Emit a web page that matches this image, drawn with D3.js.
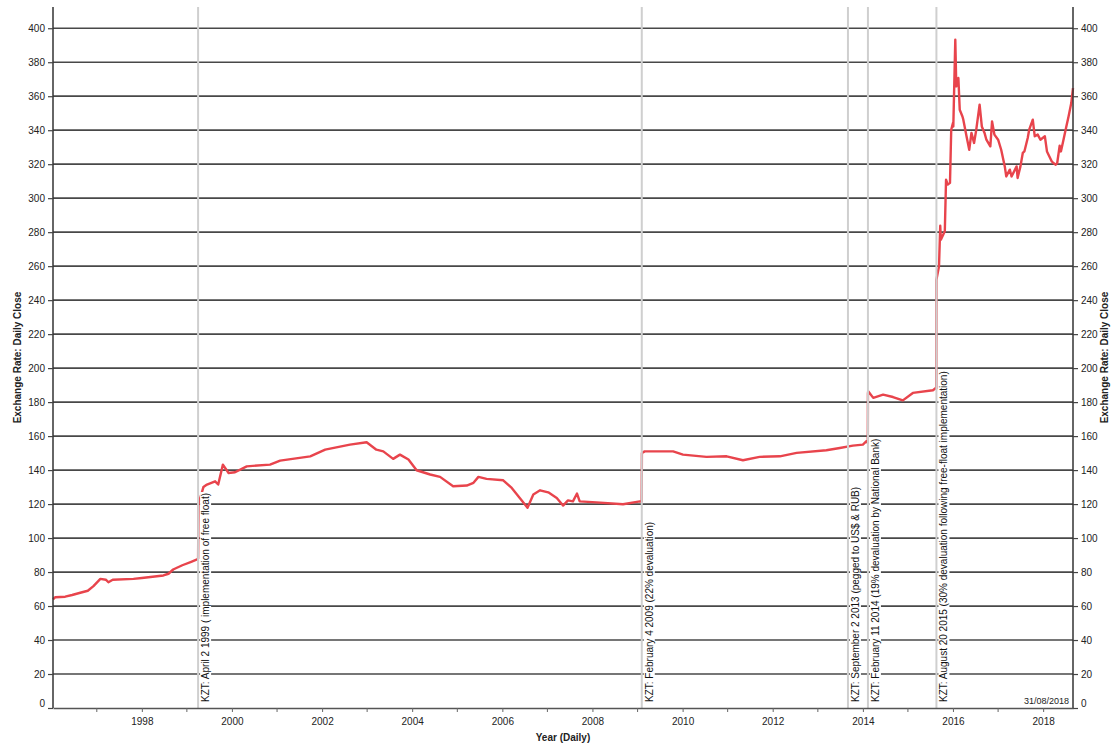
<!DOCTYPE html>
<html>
<head>
<meta charset="utf-8">
<script src="https://cdn.jsdelivr.net/npm/d3@7/dist/d3.min.js"></script>
<style>
  body { margin: 0; background: #fff; }
  svg { display: block; font-family: "Liberation Sans", Arial, sans-serif; }
</style>
</head>
<body>
<svg id="chart" width="1112" height="746"></svg>
<script>
// KZT per USD, daily close (sampled)
const dates = [
  "1996-01-12","1996-01-31","1996-04-20","1996-06-15","1996-08-20","1996-10-20","1996-12-05",
  "1997-01-30","1997-03-15","1997-04-05","1997-05-10","1997-10-25","1998-01-01","1998-06-25",
  "1998-08-05","1998-09-12","1998-11-25","1999-02-05","1999-03-25","1999-04-02","1999-04-05",
  "1999-05-15","1999-06-13","1999-08-18","1999-09-12","1999-10-20","1999-12-05","2000-01-26",
  "2000-04-30","2000-11-05","2001-01-26","2001-09-27","2002-01-26","2002-08-15","2002-12-28",
  "2003-03-17","2003-05-12","2003-07-31","2003-09-24","2003-12-02","2004-02-06","2004-05-26",
  "2004-08-14","2004-11-28","2005-03-18","2005-05-12","2005-06-21","2005-08-26","2006-01-08",
  "2006-03-18","2006-05-22","2006-07-24","2006-09-09","2006-11-03","2007-01-08","2007-03-18",
  "2007-05-08","2007-06-17","2007-07-27","2007-08-29","2007-09-20","2008-02-02","2008-09-05",
  "2009-01-19","2009-02-03","2009-02-05","2009-02-28","2009-10-16","2010-01-04","2010-07-13",
  "2010-12-24","2011-05-05","2011-09-17","2012-02-28","2012-07-13","2013-03-11","2013-06-28",
  "2013-10-12","2014-01-01","2014-01-30","2014-02-10","2014-02-11","2014-02-13","2014-03-26",
  "2014-06-14","2014-09-02","2014-11-21","2015-02-10","2015-07-23","2015-08-15","2015-08-19",
  "2015-08-20","2015-09-10","2015-09-20","2015-09-25","2015-10-27","2015-11-06","2015-11-20",
  "2015-12-08","2015-12-18","2016-01-01","2016-01-04","2016-01-20","2016-01-28","2016-02-14",
  "2016-02-25","2016-03-18","2016-03-25","2016-04-20","2016-05-12","2016-05-30","2016-06-20",
  "2016-07-08","2016-08-04","2016-08-22","2016-09-13","2016-09-28","2016-10-30","2016-11-13",
  "2016-12-02","2017-01-01","2017-01-26","2017-02-24","2017-03-08","2017-04-06","2017-04-20",
  "2017-05-31","2017-06-08","2017-07-01","2017-07-20","2017-08-02","2017-08-29","2017-09-10",
  "2017-10-09","2017-10-25","2017-11-18","2017-12-10","2018-01-15","2018-02-01","2018-03-12",
  "2018-03-25","2018-04-13","2018-04-25","2018-05-15","2018-05-25","2018-06-15","2018-07-08",
  "2018-07-26","2018-08-17","2018-08-31"
];
const rates = [
  64.0, 65.2, 65.5, 66.5, 67.8, 69.0, 71.7,
  76.0, 75.5, 74.0, 75.5, 76.0, 76.5, 78.0,
  79.0, 81.5, 84.0, 86.0, 87.4, 88.0, 120.0,
  130.0, 131.5, 133.4, 131.5, 143.2, 138.3, 138.7,
  142.2, 143.2, 145.6, 148.1, 152.0, 155.0, 156.4,
  152.0, 151.0, 146.6, 149.1, 146.2, 139.9, 137.4,
  136.0, 130.5, 130.9, 132.5, 136.0, 134.8, 134.0,
  129.5, 123.6, 117.8, 125.6, 128.1, 126.9, 123.6,
  119.1, 122.2, 121.6, 126.2, 121.6, 121.0, 119.9,
  121.6, 121.5, 150.0, 151.0, 151.0, 149.1, 147.8,
  148.1, 145.8, 147.8, 148.1, 150.1, 151.7, 153.0,
  154.4, 155.0, 157.0, 156.0, 185.0, 186.4, 182.5,
  184.4, 183.0, 181.0, 185.4, 187.0, 188.3, 188.0,
  252.0, 260.0, 283.8, 275.6, 280.5, 310.9, 308.0,
  309.0, 340.3, 344.2, 342.2, 393.2, 365.8, 370.7,
  352.0, 348.1, 346.2, 336.4, 328.5, 338.4, 332.5,
  340.3, 355.0, 342.2, 338.4, 334.4, 330.5, 345.2,
  337.4, 334.4, 328.5, 318.7, 312.8, 316.8, 312.8,
  318.7, 311.9, 318.7, 326.6, 327.5, 335.4, 340.3,
  346.2, 336.4, 337.4, 334.4, 336.4, 327.5, 321.6,
  320.7, 319.7, 320.7, 330.9, 327.5, 334.4, 342.2,
  348.1, 356.0, 364.8
];

// Policy events
const eventDates = ["1999-04-02", "2009-02-04", "2013-09-02", "2014-02-11", "2015-08-20"];
const eventLabels = [
  "KZT: April 2 1999 ( implementation of free float)",
  "KZT: February 4 2009 (22% devaluation)",
  "KZT: September 2 2013 (pegged to US$ & RUB)",
  "KZT: February 11 2014 (19% devaluation by National Bank)",
  "KZT: August 20 2015 (30% devaluation following free-float implementation)"
];

// Axis ticks
const yTicks = [0, 20, 40, 60, 80, 100, 120, 140, 160, 180, 200, 220, 240, 260, 280, 300, 320, 340, 360, 380, 400];
const xLabelYears = [1998, 2000, 2002, 2004, 2006, 2008, 2010, 2012, 2014, 2016, 2018];
const xMinorYears = [1997, 1999, 2001, 2003, 2005, 2007, 2009, 2011, 2013, 2015, 2017];
const domainStart = "1996-01-12";
const domainEnd = "2018-08-31";
const asOfLabel = "31/08/2018";

const parse = d3.timeParse("%Y-%m-%d");
const series = dates.map((d, i) => ({ date: parse(d), value: rates[i] }));

const W = 1112, H = 746;
const m = { left: 53, right: 39, top: 7, bottom: 38 };
const x0 = m.left, x1 = W - m.right, yTop = m.top, yBot = H - m.bottom;

const svg = d3.select("#chart");

const x = d3.scaleTime().domain([parse(domainStart), parse(domainEnd)]).range([x0, x1]);
const y = d3.scaleLinear().domain([0, 412.5]).range([yBot, yTop]);

// Horizontal gridlines
svg.append("g")
  .selectAll("line")
  .data(yTicks.filter(v => v > 0))
  .join("line")
  .attr("x1", x0).attr("x2", x1)
  .attr("y1", d => y(d)).attr("y2", d => y(d))
  .attr("stroke", "#484848")
  .attr("stroke-width", 1.7);

// Exchange rate line
svg.append("path")
  .datum(series)
  .attr("fill", "none")
  .attr("stroke", "#e8444c")
  .attr("stroke-width", 2.4)
  .attr("stroke-linejoin", "round")
  .attr("d", d3.line().x(d => x(d.date)).y(d => y(d.value)));

// Event markers
const ev = svg.append("g");
eventDates.forEach((d, i) => {
  const ex = x(parse(d));
  ev.append("line")
    .attr("x1", ex).attr("x2", ex)
    .attr("y1", yTop).attr("y2", yBot)
    .attr("stroke", "#cfcfcf")
    .attr("stroke-width", 2);
  const g = ev.append("g").attr("transform", `translate(${ex + 11},${yBot - 6}) rotate(-90)`);
  const bg = g.append("rect").attr("fill", "#fff");
  const t = g.append("text")
    .attr("x", 0).attr("y", 0)
    .attr("font-size", 10)
    .attr("fill", "#111")
    .text(eventLabels[i]);
  const b = t.node().getBBox();
  bg.attr("x", b.x - 1).attr("y", b.y).attr("width", b.width + 2).attr("height", b.height);
});

// Left and right value axes
const yAxisL = svg.append("g")
  .attr("transform", `translate(${x0},0)`)
  .call(d3.axisLeft(y).tickValues(yTicks).tickSize(5).tickSizeOuter(0).tickFormat(d3.format("d")));
const yAxisR = svg.append("g")
  .attr("transform", `translate(${x1},0)`)
  .call(d3.axisRight(y).tickValues(yTicks).tickSize(5).tickSizeOuter(0).tickFormat(d3.format("d")));
[yAxisL, yAxisR].forEach(a => {
  a.select(".domain").attr("stroke", "#333").attr("stroke-width", 1.5)
    .attr("d", `M0,${yTop}V${yBot}`);
  a.selectAll(".tick line").attr("stroke", "#444").attr("stroke-width", 1.2);
  a.selectAll(".tick text").attr("font-size", 10).attr("fill", "#222")
    .attr("font-family", "'Liberation Sans', Arial, sans-serif");
  // lift the zero label off the bottom axis line
  a.selectAll(".tick").filter(d => d === 0).select("text").attr("y", -5);
});

// Bottom axis
const xAxis = svg.append("g")
  .attr("transform", `translate(0,${yBot})`)
  .call(d3.axisBottom(x)
    .tickValues(xLabelYears.map(yr => new Date(yr, 0, 1)))
    .tickFormat(d3.timeFormat("%Y"))
    .tickSize(4).tickSizeOuter(0));
xAxis.select(".domain").attr("stroke", "#555").attr("stroke-width", 1.5);
xAxis.selectAll(".tick line").attr("stroke", "#666");
xAxis.selectAll(".tick text").attr("font-size", 10).attr("fill", "#222").attr("dy", "0.95em")
  .attr("font-family", "'Liberation Sans', Arial, sans-serif");
svg.append("g")
  .selectAll("line")
  .data(xMinorYears)
  .join("line")
  .attr("x1", d => x(new Date(d, 0, 1))).attr("x2", d => x(new Date(d, 0, 1)))
  .attr("y1", yBot).attr("y2", yBot + 4)
  .attr("stroke", "#666");

// As-of date
svg.append("text")
  .attr("x", x1 - 4).attr("y", yBot - 4)
  .attr("text-anchor", "end")
  .attr("font-size", 9)
  .attr("fill", "#222")
  .text(asOfLabel);

// Axis titles
const titleY = (yTop + yBot) / 2;
svg.append("text")
  .attr("transform", `translate(21,${titleY}) rotate(-90)`)
  .attr("text-anchor", "middle")
  .attr("font-size", 10).attr("font-weight", "bold").attr("fill", "#222")
  .text("Exchange Rate: Daily Close");
svg.append("text")
  .attr("transform", `translate(1108,${titleY}) rotate(-90)`)
  .attr("text-anchor", "middle")
  .attr("font-size", 10).attr("font-weight", "bold").attr("fill", "#222")
  .text("Exchange Rate: Daily Close");
svg.append("text")
  .attr("x", (x0 + x1) / 2).attr("y", 741)
  .attr("text-anchor", "middle")
  .attr("font-size", 10).attr("font-weight", "bold").attr("fill", "#222")
  .text("Year (Daily)");
</script>
</body>
</html>
